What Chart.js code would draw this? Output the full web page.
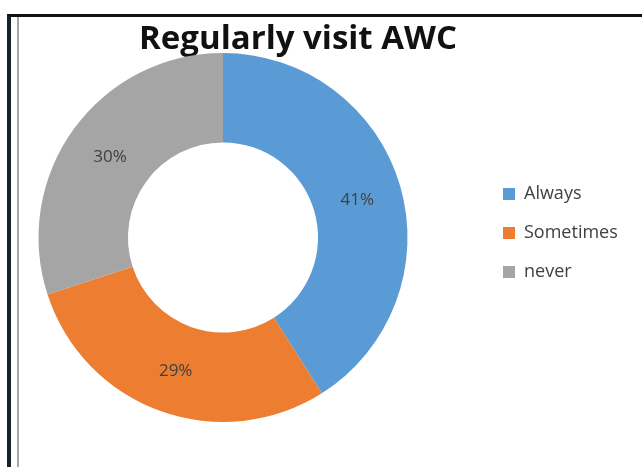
<!DOCTYPE html>
<html>
<head>
<meta charset="utf-8">
<script src="https://cdn.jsdelivr.net/npm/chart.js@4.4.1/dist/chart.umd.min.js"></script>
<style>
  html, body { margin: 0; padding: 0; background: #fff; width: 642px; height: 467px; overflow: hidden; }
  #frame { position: absolute; left: 7px; top: 14px; width: 640px; height: 460px;
           border-top: 3px solid #111; border-left: 4px solid #14232a; box-sizing: border-box; }
  #inner { position: absolute; left: 17px; top: 17px; width: 2px; height: 450px; background: #a6a6a6; }
  #c { position: absolute; left: 0; top: 0; }
</style>
</head>
<body>
<div id="frame"></div>
<div id="inner"></div>
<canvas id="c" width="642" height="467"></canvas>
<script>
const titleText = "Regularly visit AWC";
const categories = ["Always", "Sometimes", "never"];
const values = [41, 29, 30];
const colors = ["#5B9BD5", "#ED7D31", "#A5A5A5"];

const placePlugin = {
  id: 'place',
  afterLayout(chart) {
    const ca = chart.chartArea;
    const cx = 223, cy = 237.5, r = 184.5;
    ca.left = cx - r; ca.right = cx + r; ca.top = cy - r; ca.bottom = cy + r;
    ca.width = 2 * r; ca.height = 2 * r;
    const lg = chart.legend;
    const pad = lg.options.labels.padding;
    const w = lg.width, h = lg.height;
    lg.left = 503 - pad; lg.right = lg.left + w;
    lg.top = 194 - 9 - pad; lg.bottom = lg.top + h;
  }
};

const labelPlugin = {
  id: 'sliceLabels',
  afterDatasetsDraw(chart) {
    const ctx = chart.ctx;
    const meta = chart.getDatasetMeta(0);
    ctx.save();
    ctx.font = '17px "Open Sans"';
    ctx.fillStyle = '#404040';
    ctx.textAlign = 'center';
    ctx.textBaseline = 'middle';
    meta.data.forEach((arc, i) => {
      const p = arc.getCenterPoint();
      ctx.fillText(values[i] + '%', p.x, p.y + 2);
    });
    ctx.restore();
  }
};

new Chart(document.getElementById('c'), {
  type: 'doughnut',
  data: {
    labels: categories,
    datasets: [{ data: values, backgroundColor: colors, borderWidth: 0, hoverOffset: 0 }]
  },
  options: {
    responsive: false,
    animation: false,
    cutout: '51.5%',
    layout: { padding: { top: 20, left: 16, right: 62, bottom: 0 } },
    plugins: {
      title: {
        display: true, text: titleText, color: '#111',
        font: { family: 'Open Sans', size: 33, weight: 'bold' },
        padding: { top: 0, bottom: 0 }
      },
      legend: {
        position: 'right', align: 'start',
        labels: {
          font: { family: 'Open Sans', size: 18 }, color: '#404040',
          boxWidth: 12, boxHeight: 12, padding: 21
        }
      },
      tooltip: { enabled: false }
    }
  },
  plugins: [placePlugin, labelPlugin]
});
</script>
</body>
</html>
